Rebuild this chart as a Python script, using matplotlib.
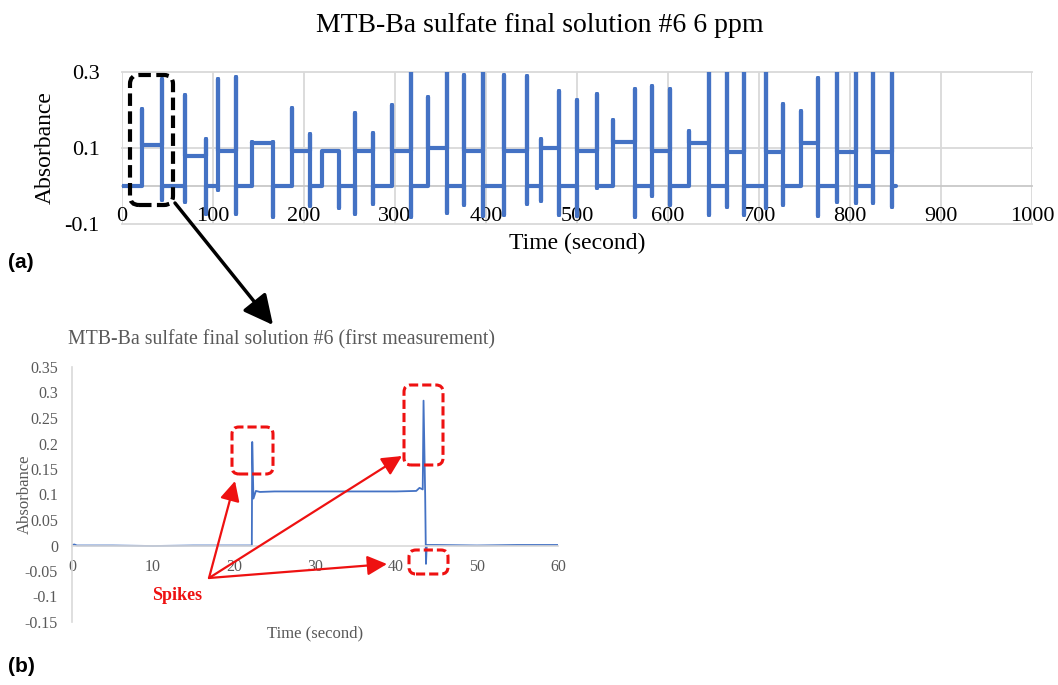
import matplotlib.pyplot as plt
from matplotlib.patches import FancyBboxPatch, FancyArrowPatch

# (a) full run: each measurement = start jump, plateau, end jump
start_t = [22, 69, 106, 142.5, 186.4, 219.4, 255.5, 296.3, 336.6, 376, 420,
           460, 499.6, 540, 582.1, 622.8, 664.5, 707.5, 745.8, 785.6, 825.3]
end_t = [43.6, 92, 125, 166.3, 206.6, 238.8, 276.2, 317.4, 356.8, 397, 444.7,
         480.4, 522, 563.7, 602.2, 644.8, 683.2, 726, 764.6, 807, 846.3]
plateau = [0.109, 0.078, 0.091, 0.113, 0.092, 0.091, 0.091, 0.091, 0.099, 0.092, 0.092,
           0.101, 0.091, 0.115, 0.091, 0.114, 0.090, 0.090, 0.114, 0.089, 0.089]
start_peak = [0.203, 0.239, 0.282, 0.116, 0.205, 0.091, 0.193, 0.214, 0.233, 0.291, 0.291,
              0.125, 0.226, 0.174, 0.263, 0.144, 0.30, 0.30, 0.197, 0.30, 0.30]
start_low = [0, -0.042, -0.011, 0, 0, 0, -0.073, 0, 0, -0.050, -0.076,
             -0.040, -0.078, 0, -0.025, 0, -0.054, -0.057, 0, -0.042, -0.045]
end_peak = [0.282, 0.125, 0.287, 0.115, 0.138, 0.091, 0.140, 0.30, 0.30, 0.30, 0.289,
            0.250, 0.243, 0.254, 0.256, 0.30, 0.30, 0.216, 0.284, 0.30, 0.30]
end_low = [-0.038, -0.073, -0.073, -0.082, -0.052, -0.057, -0.047, -0.081, -0.072, -0.080, -0.047,
           -0.077, -0.004, -0.082, -0.051, -0.077, -0.077, -0.050, -0.078, -0.045, -0.054]
run_end = 851

# (b) first measurement
t_first = [0, 0.3, 0.6, 5, 10, 15, 20, 22.2, 22.25, 22.4, 22.7, 23.2, 25, 30, 35, 40, 42.5,
           42.9, 43.3, 43.4, 43.6, 43.7, 43.8, 45, 50, 55, 60]
a_first = [0.001, 0.002, 0.0, 0.0, -0.001, 0.0, 0.0, 0.0, 0.203, 0.092, 0.107, 0.105, 0.106,
           0.106, 0.106, 0.106, 0.107, 0.113, 0.110, 0.284, 0.10, -0.036, 0.001, 0.001, 0.0,
           0.001, 0.001]

W, H = 1058, 685
blue = '#4472C4'
grid = '#D9D9D9'
serif = 'Liberation Serif'
plt.rcParams['font.family'] = serif

fig = plt.figure(figsize=(W / 100, H / 100), dpi=100)


def rect(x0, y0, x1, y1):
    return [x0 / W, 1 - y1 / H, (x1 - x0) / W, (y1 - y0) / H]


def px(x, y):
    # pixel position -> inches for fig.dpi_scale_trans
    return (x / 100, (H - y) / 100)


# ---- top chart
t_top = [0]
a_top = [0]
for i in range(len(start_t)):
    t_top += [start_t[i]] * 4
    a_top += [0, start_low[i], start_peak[i], plateau[i]]
    t_top += [end_t[i]] * 4
    a_top += [plateau[i], end_peak[i], end_low[i], 0]
t_top.append(run_end)
a_top.append(0)

ax1 = fig.add_axes(rect(122, 72, 1032, 224))
ax1.plot(t_top, a_top, color=blue, lw=3, solid_capstyle='round', solid_joinstyle='round', zorder=3)
ax1.set_xlim(0, 1000)
ax1.set_ylim(-0.1, 0.3)
ax1.set_xticks(range(0, 1001, 100))
ax1.set_yticks([-0.1, 0.1, 0.3])
ax1.set_yticklabels(['-0.1', '0.1', '0.3'])
ax1.grid(True, color=grid, lw=1.3)
for l in ax1.get_xgridlines() + ax1.get_ygridlines():
    l.set_clip_on(False)
for s in ['top', 'right', 'left']:
    ax1.spines[s].set_visible(False)
ax1.spines['bottom'].set_position(('data', 0))
ax1.spines['bottom'].set_color('#C8C8C8')
ax1.spines['bottom'].set_linewidth(1.3)
ax1.tick_params(axis='both', length=0, labelsize=16)
ax1.tick_params(axis='y', pad=16)
ax1.tick_params(axis='x', pad=15)
ax1.set_xlabel('Time (second)', fontsize=17)
ax1.xaxis.set_label_coords(0.5, -0.125)
ax1.xaxis.label.set_va('center')
ax1.set_ylabel('Absorbance', fontsize=17)
ax1.yaxis.set_label_coords(-0.0846, 0.5)
ax1.yaxis.label.set_va('center')

fig.text(540 / W, 1 - 25 / H, 'MTB-Ba sulfate final solution #6 6 ppm', ha='center', va='center', fontsize=20)

# ---- bottom chart
gray = '#595959'
ax2 = fig.add_axes(rect(72, 367, 558, 622))
ax2.plot(t_first, a_first, color=blue, lw=1.3)
ax2.set_xlim(0, 60)
ax2.set_ylim(-0.15, 0.35)
ax2.set_xticks(range(0, 61, 10))
yt = [-0.15, -0.1, -0.05, 0, 0.05, 0.1, 0.15, 0.2, 0.25, 0.3, 0.35]
ax2.set_yticks(yt)
ax2.set_yticklabels(['-0.15', '-0.1', '-0.05', '0', '0.05', '0.1', '0.15', '0.2', '0.25', '0.3', '0.35'])
for s in ['top', 'right']:
    ax2.spines[s].set_visible(False)
ax2.spines['bottom'].set_position(('data', 0))
for s in ['bottom', 'left']:
    ax2.spines[s].set_color(grid)
    ax2.spines[s].set_linewidth(1.2)
ax2.tick_params(axis='both', length=0, labelsize=11.5, labelcolor=gray)
ax2.tick_params(axis='y', pad=10)
ax2.tick_params(axis='x', pad=10)
ax2.set_xlabel('Time (second)', fontsize=12, color=gray)
ax2.xaxis.set_label_coords(0.5, -0.043)
ax2.xaxis.label.set_va('center')
ax2.set_ylabel('Absorbance', fontsize=12, color=gray)
ax2.yaxis.set_label_coords(-0.097, 0.502)
ax2.yaxis.label.set_va('center')

fig.text(68 / W, 1 - 340 / H, 'MTB-Ba sulfate final solution #6 (first measurement)',
         ha='left', va='center', fontsize=14.3, color=gray)

# ---- panel letters
fig.text(8 / W, 1 - 262 / H, '(a)', fontsize=15, fontweight='bold', family='Liberation Sans', va='center')
fig.text(8 / W, 1 - 667 / H, '(b)', fontsize=15, fontweight='bold', family='Liberation Sans', va='center')

# ---- zoom box and arrow
box = FancyBboxPatch(px(130, 205), 0.43, 1.30, boxstyle='round,pad=0,rounding_size=0.09',
                     transform=fig.dpi_scale_trans, fill=False, ec='black', lw=3, ls=(0, (3, 1.3)))
fig.add_artist(box)
fig.add_artist(FancyArrowPatch(px(175, 203), px(273, 325), transform=fig.dpi_scale_trans,
                               arrowstyle='-|>,head_length=0.9,head_width=0.45', mutation_scale=20,
                               lw=2.5, color='black', shrinkA=0, shrinkB=0))

# ---- spike markers
red = '#EE1111'
for (x0, y0, x1, y1) in [(232, 427, 273, 474), (404, 385, 443, 465), (409, 550, 448, 574)]:
    fig.add_artist(FancyBboxPatch(px(x0, y1), (x1 - x0) / 100, (y1 - y0) / 100,
                                  boxstyle='round,pad=0,rounding_size=0.07',
                                  transform=fig.dpi_scale_trans, fill=False, ec=red, lw=2.2,
                                  ls=(0, (3, 1.3))))
for tip in [(235, 481), (402, 456), (387, 564)]:
    fig.add_artist(FancyArrowPatch(px(209, 578), px(*tip), transform=fig.dpi_scale_trans,
                                   arrowstyle='-|>,head_length=0.6,head_width=0.3', mutation_scale=20,
                                   lw=1.6, color=red, shrinkA=0, shrinkB=0))
fig.text(177 / W, 1 - 596 / H, 'Spikes', ha='center', va='center', fontsize=13,
         fontweight='bold', color=red)

fig.savefig('out.png', dpi=100)
